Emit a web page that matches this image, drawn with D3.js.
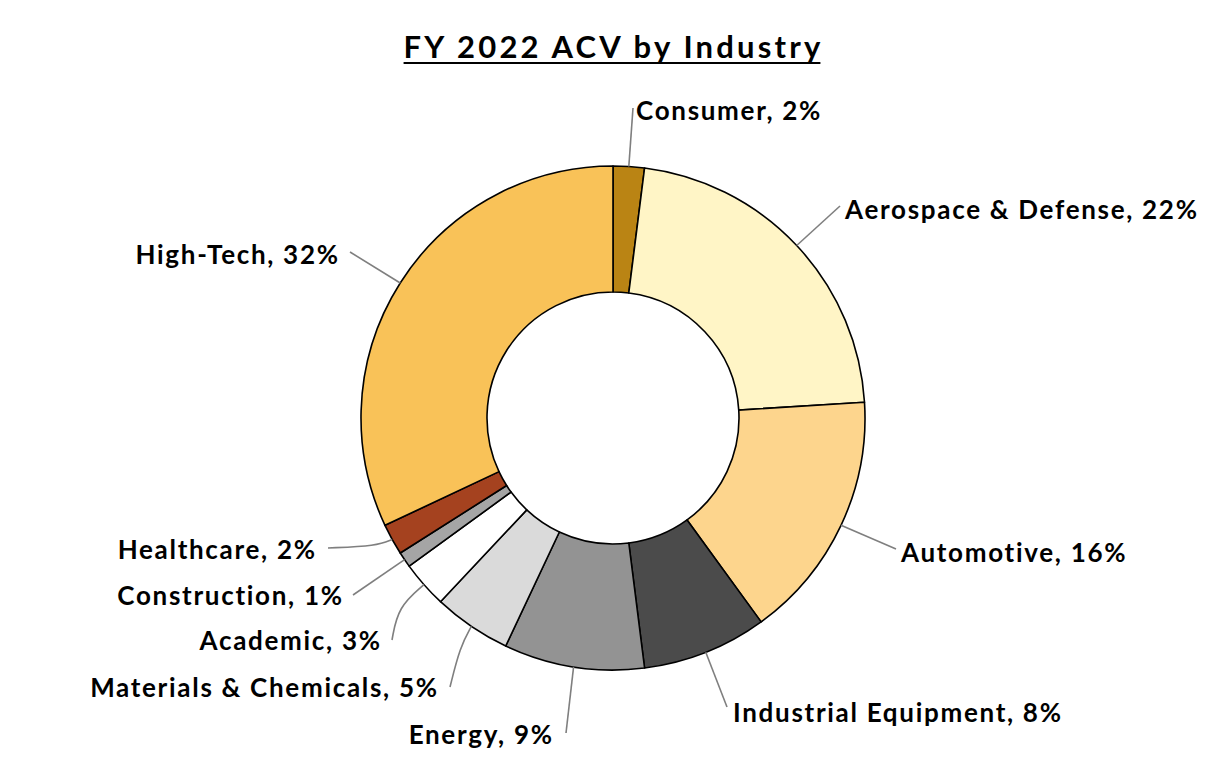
<!DOCTYPE html>
<html>
<head>
<meta charset="utf-8">
<script src="https://cdn.jsdelivr.net/npm/d3@7"></script>
<style>
  body { margin: 0; background: #fff; }
  text { font-family: Lato, "Open Sans", sans-serif; font-weight: 700; }
</style>
</head>
<body>
<div id="chart"></div>
<script>
// data, clockwise from 12 o'clock
var industries = ["Consumer", "Aerospace & Defense", "Automotive", "Industrial Equipment", "Energy",
                  "Materials & Chemicals", "Academic", "Construction", "Healthcare", "High-Tech"];
var shares = [2, 22, 16, 8, 9, 5, 3, 1, 2, 32];
var colors = ["#BA8414", "#FFF5C6", "#FDD58D", "#4B4B4B", "#939393",
              "#DADADA", "#FFFFFF", "#A5A5A5", "#A5421F", "#F9C258"];

// label layout: text anchor point, side, and leader bend/end points
var labelPos = [
  {x: 636, y: 111, side: "start", leader: [[633, 108]]},
  {x: 845, y: 210, side: "start", leader: [[840, 206]]},
  {x: 901, y: 553, side: "start", leader: [[896, 549]]},
  {x: 733, y: 713, side: "start", leader: [[727, 707]]},
  {x: 552, y: 735, side: "end",   leader: [[566, 733]]},
  {x: 437, y: 688, side: "end",   leader: [[460, 647], [450, 687]]},
  {x: 380, y: 641, side: "end",   leader: [[398, 607], [392, 640]]},
  {x: 342, y: 596, side: "end",   leader: [[353, 595]]},
  {x: 315, y: 550, side: "end",   leader: [[377, 546], [328, 548]]},
  {x: 338, y: 255, side: "end",   leader: [[350, 252]]}
];

var width = 1226, height = 760;
var cx = 613, cy = 418, outerR = 252, innerR = 126;
var lblSpacing = 1.7, titleSpacing = 3.2;

var svg = d3.select("#chart").append("svg")
    .attr("width", width)
    .attr("height", height);

// title
var title = svg.append("text")
    .attr("x", 612 + titleSpacing / 2)
    .attr("y", 58)
    .attr("text-anchor", "middle")
    .attr("font-size", 31)
    .attr("letter-spacing", titleSpacing)
    .text("FY 2022 ACV by Industry");
var tb = title.node().getBBox();
svg.append("line")
    .attr("x1", tb.x).attr("x2", tb.x + tb.width - titleSpacing)
    .attr("y1", 63).attr("y2", 63)
    .attr("stroke", "#000").attr("stroke-width", 2);

var items = industries.map(function(d, i) { return {name: d, value: shares[i], i: i}; });

var pie = d3.pie().sort(null).value(function(d) { return d.value; });
var arc = d3.arc().innerRadius(innerR).outerRadius(outerR);
var edge = d3.arc().innerRadius(outerR).outerRadius(outerR);

var arcs = pie(items);

var g = svg.append("g").attr("transform", "translate(" + cx + "," + cy + ")");

g.selectAll(".slice")
  .data(arcs)
  .enter()
  .append("path")
  .attr("class", "slice")
  .attr("d", arc)
  .attr("fill", function(d) { return colors[d.data.i]; })
  .attr("stroke", "#000")
  .attr("stroke-width", 1.6)
  .attr("stroke-linejoin", "round");

// leader lines
var line = d3.line().curve(d3.curveBasis);
svg.selectAll(".leader")
  .data(arcs)
  .enter()
  .append("path")
  .attr("class", "leader")
  .attr("d", function(d) {
    var c = edge.centroid(d);
    var pts = [[cx + c[0], cy + c[1]]].concat(labelPos[d.data.i].leader);
    return line(pts);
  })
  .attr("fill", "none")
  .attr("stroke", "#7F7F7F")
  .attr("stroke-width", 1.6);

// labels
svg.selectAll(".lbl")
  .data(arcs)
  .enter()
  .append("text")
  .attr("class", "lbl")
  .attr("x", function(d) {
    var p = labelPos[d.data.i];
    return p.side == "end" ? p.x + lblSpacing : p.x;
  })
  .attr("y", function(d) { return labelPos[d.data.i].y; })
  .attr("dy", "0.36em")
  .attr("text-anchor", function(d) { return labelPos[d.data.i].side; })
  .attr("font-size", 26)
  .attr("letter-spacing", lblSpacing)
  .text(function(d) { return d.data.name + ", " + d.data.value + "%"; });
</script>
</body>
</html>
